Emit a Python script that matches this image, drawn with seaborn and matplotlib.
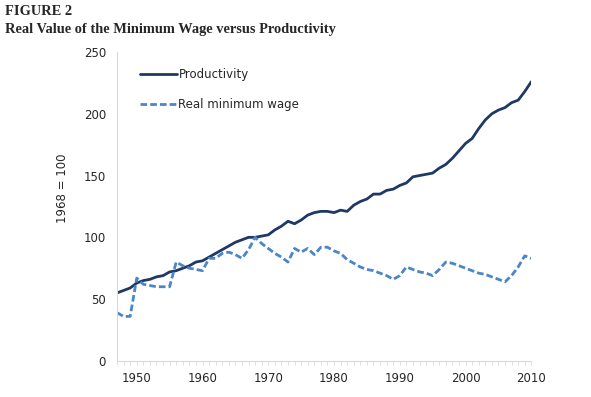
import matplotlib
matplotlib.use("Agg")
import matplotlib.pyplot as plt
from matplotlib.ticker import MultipleLocator
import seaborn as sns
import pandas as pd

# data (index, 1968 = 100)
years = list(range(1947, 2011))
productivity = [55, 57, 59, 63, 65, 66, 68, 69, 72, 73,
                75, 77, 80, 81, 84, 87, 90, 93, 96, 98,
                100, 100, 101, 102, 106, 109, 113, 111, 114, 118,
                120, 121, 121, 120, 122, 121, 126, 129, 131, 135,
                135, 138, 139, 142, 144, 149, 150, 151, 152, 156,
                159, 164, 170, 176, 180, 188, 195, 200, 203, 205,
                209, 211, 218, 226]
min_wage = [39, 36, 36, 67, 62, 61, 60, 60, 60, 80,
            77, 75, 74, 73, 83, 83, 87, 88, 86, 83,
            90, 100, 95, 91, 87, 84, 80, 91, 88, 91,
            86, 92, 92, 89, 87, 82, 79, 76, 74, 73,
            71, 69, 66, 69, 76, 74, 72, 71, 69, 74,
            80, 79, 77, 75, 73, 71, 70, 68, 66, 64,
            69, 76, 85, 83]
series_names = ["Productivity", "Real minimum wage"]
y_ticks = [0, 50, 100, 150, 200, 250]

df = pd.DataFrame({"year": years, series_names[0]: productivity,
                   series_names[1]: min_wage})
long_df = df.melt(id_vars="year", var_name="series", value_name="value")

sns.set_style("white")
plt.rcParams["font.family"] = ["DejaVu Sans"]

fig = plt.figure(figsize=(5.91, 3.97), dpi=100)
ax = fig.add_axes([0.198, 0.091, 0.701, 0.778])

sns.lineplot(data=long_df, x="year", y="value", hue="series", style="series",
             palette={series_names[0]: "#1f3864", series_names[1]: "#4a86c8"},
             dashes={series_names[0]: "", series_names[1]: (2.4, 1.1)},
             linewidth=2.0, ax=ax)

ax.set_xlim(1947, 2010)
ax.set_ylim(0, 250)
ax.set_yticks(y_ticks)
ax.xaxis.set_major_locator(MultipleLocator(10))
ax.xaxis.set_minor_locator(MultipleLocator(1))
ax.tick_params(axis="x", which="both", direction="out", length=3, width=0.6,
               color="#dcdcdc", labelsize=8.5, pad=5, bottom=True)
ax.tick_params(axis="y", length=0, labelsize=8.5, pad=8)
ax.set_xlabel("")
ax.set_ylabel("1968 = 100", fontsize=8.5)
ax.yaxis.set_label_coords(-0.116, 0.56)

for side in ["top", "right"]:
    ax.spines[side].set_visible(False)
for side in ["left", "bottom"]:
    ax.spines[side].set_color("#d9d9d9")
    ax.spines[side].set_linewidth(0.8)

leg = ax.legend(loc="upper left", bbox_to_anchor=(0.03, 0.983), frameon=False,
                fontsize=8.5, handlelength=3.1, handletextpad=0.15,
                labelspacing=1.45)

fig.text(0.008, 0.962, "FIGURE 2", fontsize=10.4, fontweight="bold",
         family="Liberation Serif", va="baseline")
fig.text(0.008, 0.917, "Real Value of the Minimum Wage versus Productivity",
         fontsize=10.4, fontweight="bold", family="Liberation Serif", va="baseline")

fig.savefig("out.png", dpi=100)
